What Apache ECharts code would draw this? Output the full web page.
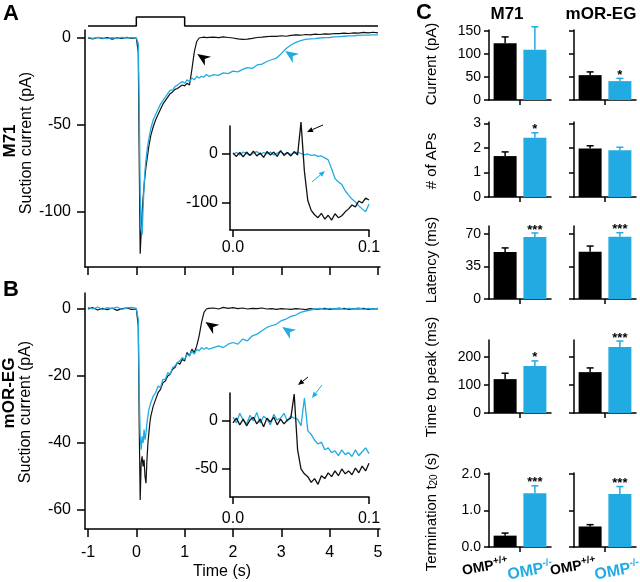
<!DOCTYPE html>
<html><head><meta charset="utf-8">
<script src="https://cdn.jsdelivr.net/npm/echarts@6/dist/echarts.min.js"></script>
<style>html,body{margin:0;padding:0;background:#fff}#c{width:640px;height:582px}</style>
</head><body><div id="c"></div>
<script>
// ---------- DATA ----------
const stimTime  = [-1, 0, 0, 1, 1, 5];
const stimLevel = [0, 0, 1, 1, 0, 0];

const timeMain = [-1.0,-0.9,-0.8,-0.7,-0.6,-0.5,-0.4,-0.3,-0.2,-0.1,0.0,
 0.02,0.04,0.06,0.08,0.10,0.12,0.14,0.16,0.18,0.20,0.22,0.24,0.26,0.28,0.30,
 0.35,0.40,0.45,0.50,0.55,0.60,0.65,0.70,0.75,0.80,0.85,0.90,0.95,1.00,1.05,1.10,1.15,1.20,1.25,1.30,1.35,1.40,1.45,1.50,
 1.6,1.7,1.8,1.9,2.0,2.1,2.2,2.3,2.4,2.5,2.6,2.7,2.8,2.9,3.0,3.1,3.2,3.3,3.4,3.5,3.6,3.7,3.8,3.9,4.0,4.1,4.2,4.3,4.4,4.5,4.6,4.7,4.8,4.9,5.0];

const m71WT = [0,-0.5,0.3,-0.4,0.2,-0.6,0.1,-0.3,0.4,-0.2,0,
 -0.5,-8,-70,-124,-112,-100,-92,-85,-79,-74,-70,-66,-62,-59,-56,
 -51,-47,-44,-41,-38,-36,-34,-32,-31,-29.5,-29,-28,-27,-27.5,-26,-27,-18,-8,-2,0,0.3,0.5,0.2,0.4,
 0.5,0.2,0.6,0.3,0,-0.5,-0.8,-0.6,-0.2,0.3,0.5,0.8,1.0,0.9,1.3,1.0,1.5,1.8,1.6,2.0,1.8,2.2,2.0,2.4,2.2,2.6,2.5,2.8,2.6,3.0,2.8,3.2,3.0,3.3,3.0];
const m71KO = [0.3,-0.2,0.4,0,-0.3,0.2,-0.4,0.3,0,0.2,0,
 0,-3,-40,-90,-110,-113,-98,-85,-76,-70,-65,-61,-58,-55,-52,
 -47,-44,-41,-38,-36,-34,-32,-30,-30,-28,-27,-26,-25,-26,-24,-25,-23,-24,-22,-23,-22,-22.5,-21,-22,
 -21,-21.5,-20,-20.5,-19,-19.5,-18,-17,-17.5,-15.5,-15,-13.5,-12.5,-11.5,-9,-6,-4,-2.5,-1.5,-0.8,-0.5,-0.3,0,0.2,0.3,0.6,0.8,1.0,1.2,1.3,1.5,1.6,1.7,1.8,1.8];
const egWT = [0,0.4,-0.3,0.2,-0.2,0.3,-0.4,0.1,0.3,-0.1,0,
 0,-5,-35,-57,-46,-44,-47,-45,-50,-52,-45,-40,-37,-34,-32,
 -29,-27,-25,-24,-22,-21.5,-20,-19.5,-18,-17.5,-16,-16.5,-15,-15.5,-13,-14,-12,-13,-11,-8,-4,-1,0,0.2,
 0.3,0,0.5,0.2,0.4,0.1,0.3,0,0.2,0.1,0.3,0,0.1,-0.1,0.1,0,-0.1,0.1,0,-0.2,0.1,-0.1,0,0.2,-0.1,0.1,0,0.2,-0.1,0.1,0,0.2,-0.1,0.1,0];
const egKO = [0.5,0,0.6,-0.2,0.4,0.1,0.6,-0.1,0.3,0.5,0.2,
 0,-3,-25,-38,-42,-38,-40,-36,-39,-37,-34,-32,-30,-29,-28,
 -26,-25,-23,-23.5,-21,-21,-19,-19.5,-17.5,-17,-16,-15.5,-14.5,-15,-13.5,-14,-12.5,-13.5,-12,-12.5,-11.5,-12,-11.5,-12,
 -11.5,-11,-11.5,-10.5,-10,-10.5,-9,-9.5,-8,-7.5,-6.5,-5.5,-5,-4.5,-3.5,-3,-2.2,-1.8,-1,-0.6,-0.3,0,0.2,-0.1,0.2,0,0.3,-0.1,0.2,0,0.3,-0.1,0.2,0,0.2];

const insetTime = [0,0.0025,0.005,0.0075,0.01,0.0125,0.015,0.0175,0.02,0.0225,0.025,0.0275,0.03,0.0325,0.035,0.0375,0.04,0.0425,0.045,0.0475,
 0.05,0.0525,0.055,0.0575,0.06,0.0625,0.065,0.0675,0.07,0.0725,0.075,0.0775,0.08,0.0825,0.085,0.0875,0.09,0.0925,0.095,0.0975,0.1];
const insetM71WT = [2,-5,3,-6,4,-3,6,-4,2,-7,5,-2,4,-5,7,-3,3,-4,5,-2,
 65,-35,-95,-115,-124,-130,-121,-133,-125,-135,-122,-130,-126,-118,-112,-104,-108,-96,-100,-90,-94];
const insetM71KO = [0,3,-2,4,1,-3,2,5,-1,3,0,4,-2,2,5,0,3,-1,2,4,
 1,-2,0,-3,-2,-5,-4,-8,-12,-30,-50,-57,-62,-75,-84,-92,-98,-106,-112,-118,-102];
const insetEgWT = [-2,3,-4,2,-5,1,4,-3,2,-6,3,-1,4,-4,2,-3,1,3,
 28,-30,-50,-55,-58,-64,-60,-66,-57,-60,-54,-58,-52,-57,-50,-55,-52,-56,-49,-54,-47,-52,-44];
const insetEgKO = [4,-2,8,1,-3,6,0,9,-2,5,2,-4,7,1,3,8,0,5,
 3,2,-5,24,-10,-14,-20,-24,-22,-30,-28,-33,-31,-36,-30,-35,-33,-37,-30,-36,-32,-28,-34];

// annotation arrowheads [t, pA, colour(0 black / 1 blue)]
const headsA = [[1.26, -9.2, 0], [3.08, -7.5, 1]];
const headsB = [[1.43, -3.9, 0], [3.02, -5.4, 1]];
// inset arrows [t1, v1, t2(head), v2(head), colour]
const arrowsA = [[0.0662, 59.2, 0.0544, 44.9, 0], [0.0581, -57.1, 0.0676, -34.7, 1]];
const arrowsB = [[0.0551, 45.8, 0.0478, 37.5, 0], [0.0654, 37.5, 0.0581, 24.0, 1]];

// bar data: index 0 = M71, 1 = mOR-EG
const groups = ['M71', 'mOR-EG'];
const currentWT = [123, 54],  currentWTerr = [14, 7],   currentKO = [109, 41],   currentKOerr = [50, 6],   currentSig = ['', '*'];
const apsWT = [1.67, 1.98],   apsWTerr = [0.17, 0.11],  apsKO = [2.42, 1.91],    apsKOerr = [0.2, 0.12],   apsSig = ['*', ''];
const latWT = [50.6, 51],     latWTerr = [4.4, 6],      latKO = [66.7, 67],      latKOerr = [4.4, 4.4],    latSig = ['***', '***'];
const ttpWT = [121, 146],     ttpWTerr = [21, 15],      ttpKO = [168, 236],      ttpKOerr = [18, 21],      ttpSig = ['*', '***'];
const termWT = [0.31, 0.56],  termWTerr = [0.07, 0.05], termKO = [1.47, 1.45],   termKOerr = [0.2, 0.2],   termSig = ['***', '***'];

const mainXTicks = [-1, 0, 1, 2, 3, 4, 5];
const aYTicks = [-100, -50, 0];
const bYTicks = [-60, -40, -20, 0];
const insetXTicks = [0, 0.1];
const insetAYTicks = [-100, 0];
const insetBYTicks = [-50, 0];
const currentTicks = [0, 50, 100, 150];
const apsTicks = [0, 1, 2, 3];
const latTicks = [0, 35, 70];
const ttpTicks = [0, 100, 200];
const termTicks = [0, 1, 2];
const rowLabels = ['Current (pA)', '# of APs', 'Latency (ms)', 'Time to peak (ms)', 'Termination t{s|20} (s)'];

// ---------- CHART ----------
const FONT = '"Liberation Sans", Arial, Helvetica, sans-serif';
const BLUE = '#22abe3';
const zip = (t, v) => t.map((x, i) => [x, v[i]]);

const grids = [], xAxes = [], yAxes = [], series = [], graphics = [];

function axis(gi, min, max, ticks, labels, tickLen) {
  return {
    type: 'value', gridIndex: gi, min, max,
    axisLine: {show: true, onZero: false, lineStyle: {color: '#000', width: 1.5}},
    axisTick: {show: !!ticks, customValues: ticks || [], length: tickLen || 7, lineStyle: {color: '#000', width: 1.5}},
    axisLabel: labels ? {show: true, customValues: labels.values, formatter: labels.fmt, color: '#000',
      fontFamily: FONT, fontSize: labels.size, margin: labels.margin} : {show: false},
    splitLine: {show: false}
  };
}
function grid(left, top, width, height) {
  grids.push({left, top, width, height, outerBoundsMode: 'none', containLabel: false});
  return grids.length - 1;
}
function line(gi, t, v, color, w, z) {
  series.push({type: 'line', xAxisIndex: gi, yAxisIndex: gi, data: zip(t, v), symbol: 'none', showSymbol: false,
    clip: false, z: z || 2, lineStyle: {color, width: w}, silent: true});
}

// stimulus
let g = grid(85, 17, 295, 9);
xAxes.push({type: 'value', gridIndex: g, min: -1.062, max: 5.042, show: false});
yAxes.push({type: 'value', gridIndex: g, min: 0, max: 1, show: false});
line(g, stimTime, stimLevel, '#000', 1.5);

// Panel A main
g = grid(85, 30, 295, 237);
xAxes.push(axis(g, -1.062, 5.042, mainXTicks, null, 8));
yAxes.push(axis(g, -131.6, 4.6, aYTicks, {values: aYTicks, size: 16, margin: 14}, 8));
line(g, timeMain, m71WT, '#111', 1.2, 2);
line(g, timeMain, m71KO, BLUE, 1.3, 3);
const gA = g;

// Panel A inset
g = grid(230, 126, 139, 104);
xAxes.push(axis(g, -0.0022, 0.1, insetXTicks, {values: insetXTicks, size: 16, margin: 10, fmt: v => v.toFixed(1)}, 7));
yAxes.push(axis(g, -155.1, 57.1, insetAYTicks, {values: insetAYTicks, size: 16, margin: 12}, 8));
line(g, insetTime, insetM71KO, BLUE, 1.3, 2);
line(g, insetTime, insetM71WT, '#111', 1.3, 3);
const gAi = g;

// Panel B main
g = grid(85, 293, 295, 236);
xAxes.push(axis(g, -1.062, 5.042, mainXTicks, {values: mainXTicks, size: 16, margin: 16}, 8));
yAxes.push(axis(g, -65.7, 4.78, bYTicks, {values: bYTicks, size: 16, margin: 14}, 8));
line(g, timeMain, egWT, '#111', 1.2, 2);
line(g, timeMain, egKO, BLUE, 1.3, 3);
const gB = g;

// Panel B inset
g = grid(230, 393, 139, 104);
xAxes.push(axis(g, -0.0022, 0.1, insetXTicks, {values: insetXTicks, size: 16, margin: 14, fmt: v => v.toFixed(1)}, 7));
yAxes.push(axis(g, -79.2, 29.2, insetBYTicks, {values: insetBYTicks, size: 16, margin: 12}, 8));
line(g, insetTime, insetEgKO, BLUE, 1.3, 2);
line(g, insetTime, insetEgWT, '#111', 1.3, 3);
const gBi = g;

// arrowheads
function headRender(params, api) {
  const p = api.coord([api.value(0), api.value(1)]);
  const col = api.value(2) ? BLUE : '#000';
  const dx = -0.83, dy = -0.56, L = 13, W = 5.5;
  const bx = p[0] - L * dx, by = p[1] - L * dy;
  const px = -dy, py = dx;
  const nx = p[0] - 0.7 * L * dx, ny = p[1] - 0.7 * L * dy;
  return {type: 'polygon', shape: {points: [p, [bx + W * px, by + W * py], [nx, ny], [bx - W * px, by - W * py]]},
    style: {fill: col}};
}
function arrowRender(params, api) {
  const a = api.coord([api.value(0), api.value(1)]);
  const b = api.coord([api.value(2), api.value(3)]);
  const col = api.value(4) ? BLUE : '#000';
  const len = Math.hypot(b[0] - a[0], b[1] - a[1]);
  const ux = (b[0] - a[0]) / len, uy = (b[1] - a[1]) / len;
  const H = 6, W = 2.6;
  const cx = b[0] - H * ux, cy = b[1] - H * uy;
  return {type: 'group', children: [
    {type: 'line', shape: {x1: a[0], y1: a[1], x2: cx, y2: cy}, style: {stroke: col, lineWidth: 1}},
    {type: 'polygon', shape: {points: [b, [cx - W * uy, cy + W * ux], [cx + W * uy, cy - W * ux]]}, style: {fill: col}}
  ]};
}
[[gA, headsA], [gB, headsB]].forEach(([gi, d]) => series.push({type: 'custom', xAxisIndex: gi, yAxisIndex: gi,
  data: d, clip: false, z: 5, silent: true, renderItem: headRender}));
[[gAi, arrowsA], [gBi, arrowsB]].forEach(([gi, d]) => series.push({type: 'custom', xAxisIndex: gi, yAxisIndex: gi,
  data: d, clip: false, z: 5, silent: true, renderItem: arrowRender}));

// Panel C bars
const rows = [
  {top: 30, h: 70, max: 152, ticks: currentTicks, wt: currentWT, wtE: currentWTerr, ko: currentKO, koE: currentKOerr, sig: currentSig},
  {top: 122, h: 75, max: 3.06, ticks: apsTicks, wt: apsWT, wtE: apsWTerr, ko: apsKO, koE: apsKOerr, sig: apsSig},
  {top: 226, h: 73, max: 78.6, ticks: latTicks, wt: latWT, wtE: latWTerr, ko: latKO, koE: latKOerr, sig: latSig},
  {top: 340, h: 73, max: 260.7, ticks: ttpTicks, wt: ttpWT, wtE: ttpWTerr, ko: ttpKO, koE: ttpKOerr, sig: ttpSig},
  {top: 473, h: 74, max: 2.02, ticks: termTicks, wt: termWT, wtE: termWTerr, ko: termKO, koE: termKOerr, sig: termSig, fmt: v => v.toFixed(1)}
];
const colLeft = [489, 574];
const labelY = [64, 161, 260, 377, 512];
rows.forEach((r, ri) => {
  [0, 1].forEach(c => {
    const gi = grid(colLeft[c], r.top, 62, r.h);
    xAxes.push(axis(gi, 0, 2, [1], null, 5));
    yAxes.push(axis(gi, 0, r.max, r.ticks, c === 0 ? {values: r.ticks, size: 14, margin: 8, fmt: r.fmt} : null, 5));
    series.push({type: 'bar', xAxisIndex: gi, yAxisIndex: gi, barWidth: 23, silent: true, z: 2,
      data: [{value: [0.52, r.wt[c]], itemStyle: {color: '#000'}}, {value: [1.48, r.ko[c]], itemStyle: {color: BLUE}}]});
    const sig = r.sig[c];
    series.push({type: 'custom', xAxisIndex: gi, yAxisIndex: gi, clip: false, z: 3, silent: true,
      data: [[0.52, r.wt[c], r.wt[c] + r.wtE[c]], [1.48, r.ko[c], r.ko[c] + r.koE[c]]],
      renderItem: (params, api) => {
        const p0 = api.coord([api.value(0), api.value(1)]);
        const p1 = api.coord([api.value(0), api.value(2)]);
        const col = params.dataIndex ? BLUE : '#000';
        const ch = [
          {type: 'line', shape: {x1: p0[0], y1: p0[1], x2: p1[0], y2: p1[1]}, style: {stroke: col, lineWidth: 1.5}},
          {type: 'line', shape: {x1: p1[0] - 3.5, y1: p1[1], x2: p1[0] + 3.5, y2: p1[1]}, style: {stroke: col, lineWidth: 1.5}}
        ];
        if (params.dataIndex === 1 && sig) {
          ch.push({type: 'text', x: p1[0], y: p1[1] - 3, style: {text: sig, fill: '#000', fontFamily: FONT,
            fontWeight: 'bold', fontSize: 13, align: 'center', verticalAlign: 'middle'}});
        }
        return {type: 'group', children: ch};
      }});
  });
});

// ---------- TEXT ----------
function txt(x, y, text, size, o) {
  o = o || {};
  graphics.push({type: 'text', x, y, rotation: o.rot || 0, silent: true, z: 10,
    style: {text, fontSize: size, fontFamily: FONT, fontWeight: o.bold ? 'bold' : 'normal', fill: o.color || '#000',
      align: o.align || 'center', verticalAlign: o.va || 'middle', rich: o.rich}});
}
const R90 = Math.PI / 2;
txt(3, 3, 'A', 22, {bold: true, align: 'left', va: 'top'});
txt(3, 279, 'B', 22, {bold: true, align: 'left', va: 'top'});
txt(416, 2, 'C', 22, {bold: true, align: 'left', va: 'top'});
txt(10, 141, 'M71', 17, {bold: true, rot: R90});
txt(27, 143, 'Suction current (pA)', 16, {rot: R90});
txt(9, 393, 'mOR-EG', 17, {bold: true, rot: R90});
txt(26, 412, 'Suction current (pA)', 16, {rot: R90});
txt(222, 572, 'Time (s)', 16);
txt(507, 14, groups[0], 17, {bold: true});
txt(601, 14, groups[1], 17, {bold: true});
rowLabels.forEach((t, i) => txt(432, labelY[i], t, 15, {rot: R90,
  rich: {s: {fontSize: 10, fontFamily: FONT, lineHeight: 6, verticalAlign: 'bottom'}}}));
function omp(x, y, sup, color, size) {
  txt(x, y, '{a|OMP}{b|' + sup + '}', size, {rot: 0.18, rich: {
    a: {fontSize: size, fontWeight: 'bold', fontFamily: FONT, fill: color, lineHeight: size + 2, verticalAlign: 'bottom'},
    b: {fontSize: 10, fontWeight: 'bold', fontFamily: FONT, fill: color, lineHeight: 6, verticalAlign: 'top'}}});
}
omp(485, 566, '+/+', '#000', 14);
omp(530, 570, '-/-', BLUE, 16);
omp(573, 566, '+/+', '#000', 14);
omp(617, 570, '-/-', BLUE, 16);

const chart = echarts.init(document.getElementById('c'), null, {renderer: 'canvas'});
chart.setOption({animation: false, backgroundColor: '#fff', grid: grids, xAxis: xAxes, yAxis: yAxes, series, graphic: graphics});
</script></body></html>
